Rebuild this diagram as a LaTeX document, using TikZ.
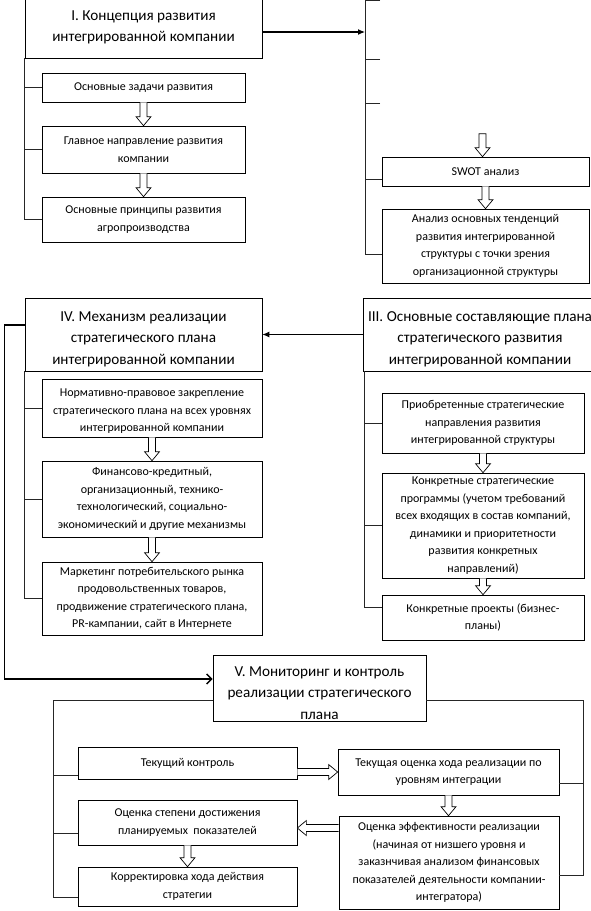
\documentclass[tikz,border=0pt]{standalone}
\usepackage{fontspec}
\setmainfont{Carlito}
\usetikzlibrary{calc,arrows.meta}
\tikzset{
  box/.style={draw=black, line width=0.7pt, fill=white, align=center, inner sep=0pt,
    font=\fontsize{12}{17.5}\selectfont},
  tbox/.style={box, font=\fontsize{15.2}{21.5}\selectfont},
  bus/.style={draw=black!85, line width=0.8pt},
  mainarrow/.style={draw=black, line width=1.1pt, -{Latex[length=7pt,width=6pt]}},
  openarrow/.style={draw=black, line width=1.5pt, -{Straight Barb[length=5pt,width=10pt]}},
  blockline/.style={draw=black, line width=0.7pt, fill=white, line join=miter},
}
\newcommand\dn[1]{\rule{0pt}{#1}}
\newcommand\boxat[7]{%
  \node[#6, minimum width={(#4-#2)*1pt}, minimum height={(#5-#3)*1pt}] (#1)
    at ({(#2+#4)/2},{(#3+#5)/2}) {#7};}
\newcommand\blockarr[2]{%
  \coordinate (bs) at #1; \coordinate (bt) at #2;
  \coordinate (bh) at ($(bt)!9pt!(bs)$);
  \path[blockline] ($(bs)!3.5pt!90:(bt)$) -- ($(bh)!3.5pt!-90:(bs)$) --
    ($(bh)!7.5pt!-90:(bs)$) -- (bt) -- ($(bh)!7.5pt!90:(bs)$) --
    ($(bh)!3.5pt!90:(bs)$) -- ($(bs)!3.5pt!-90:(bt)$);}
\newcommand\blockarrc[2]{%
  \coordinate (bs) at #1; \coordinate (bt) at #2;
  \coordinate (bh) at ($(bt)!9pt!(bs)$);
  \path[blockline] ($(bs)!3.5pt!90:(bt)$) -- ($(bh)!3.5pt!-90:(bs)$) --
    ($(bh)!7.5pt!-90:(bs)$) -- (bt) -- ($(bh)!7.5pt!90:(bs)$) --
    ($(bh)!3.5pt!90:(bs)$) -- ($(bs)!3.5pt!-90:(bt)$) -- cycle;}
\begin{document}
\begin{tikzpicture}[x=1pt,y=-1pt]
\useasboundingbox (0,0) rectangle (591,911);
\clip (0,0) rectangle (591,911);
\fill[white] (0,0) rectangle (591,911);

% ---- Block I
\boxat{b1}{25}{-3}{262}{58}{tbox}{I. Концепция развития\\интегрированной компании}
\boxat{s11}{42}{73}{245}{102}{box}{Основные задачи развития}
\boxat{s12}{42}{126}{245}{173}{box}{Главное направление развития\\компании}
\boxat{s13}{42}{197}{245}{242}{box}{Основные принципы развития\\агропроизводства}
\draw[bus] (b1.south west) |- (s13.west);
\draw[bus] (b1.south west |- s11.west) -- (s11.west);
\draw[bus] (b1.south west |- s12.west) -- (s12.west);
\blockarr{(s11.south)}{(s12.north)}
\blockarr{(s12.south)}{(s13.north)}

% ---- Block II (partly shown)
\boxat{swot}{382}{157}{589}{186}{box}{SWOT анализ}
\boxat{an}{382}{209}{589}{283}{box}{Анализ основных тенденций\\развития интегрированной\\структуры с точки зрения\\организационной структуры}
\coordinate (c2top) at (380,0.5);
\coordinate (c2in) at (365,32);
\coordinate (t2a) at (380,59);
\coordinate (t2b) at (380,103);
\coordinate (swin) at ($(swot.north)+(-3,-23)$);
\draw[bus] (c2top) -- ++(-15,0) |- ($(an.west)+(0,8)$);
\draw[bus] (t2a) -- ++(-15,0);
\draw[bus] (t2b) -- ++(-15,0);
\draw[bus] ($(swot.west)+(0,7.5)$) -- ++(-17,0);
\draw[mainarrow] (b1.east |- c2in) -- (c2in);
\blockarrc{(swin)}{(swin |- swot.north)}
\blockarr{(swot.south)}{(an.north)}

% ---- Block IV
\boxat{b4}{25}{298}{262}{371}{tbox}{\dn{19pt}IV. Механизм реализации\\стратегического плана\\интегрированной компании}
\boxat{s41}{42}{379}{262}{437}{box}{\dn{14pt}Нормативно-правовое закрепление\\стратегического плана на всех уровнях\\интегрированной компании}
\boxat{s42}{42}{461}{262}{537}{box}{Финансово-кредитный,\\организационный, технико-\\технологический, социально-\\экономический и другие механизмы}
\boxat{s43}{42}{562}{262}{635}{box}{Маркетинг потребительского рынка\\продовольственных товаров,\\продвижение стратегического плана,\\PR-кампании, сайт в Интернете}
\draw[bus] (b4.south west) |- (s43.west);
\draw[bus] (b4.south west |- s41.west) -- (s41.west);
\draw[bus] (b4.south west |- s42.west) -- (s42.west);
\blockarr{(s41.south)}{(s42.north)}
\blockarr{(s42.south)}{(s43.north)}

% ---- Block III
\boxat{b3}{363}{298}{597}{371}{tbox}{\dn{19pt}III. Основные составляющие плана\\стратегического развития\\интегрированной компании}
\boxat{s31}{382}{393}{584}{453}{box}{Приобретенные стратегические\\направления развития\\интегрированной структуры}
\boxat{s32}{382}{473}{584}{578}{box}{Конкретные стратегические\\программы (учетом требований\\всех входящих в состав компаний,\\динамики и приоритетности\\развития конкретных\\направлений)}
\boxat{s33}{382}{595}{584}{640}{box}{Конкретные проекты (бизнес-\\планы)}
\coordinate (c3) at ($(b3.south west)+(2,0)$);
\draw[bus] (c3) |- ($(s33.west)+(0,-10.5)$);
\draw[bus] (c3 |- s31.west) -- (s31.west);
\draw[bus] (c3 |- s32.west) -- (s32.west);
\blockarr{(s31.south)}{(s32.north)}
\blockarr{(s32.south)}{(s33.north)}
\draw[mainarrow] (b3.west) -- (b4.east);

% ---- Block V
\boxat{b5}{213}{655}{426}{721}{tbox}{\dn{20pt}V. Мониторинг и контроль\\реализации стратегического\\плана}
\boxat{s51}{78}{747}{297}{779}{box}{Текущий контроль}
\boxat{s52}{338}{749}{559}{795}{box}{Текущая оценка хода реализации по\\уровням интеграции}
\boxat{s53}{78}{800}{297}{845}{box}{Оценка степени достижения\\планируемых\ \ показателей}
\boxat{s54}{339}{816}{559}{909}{box}{Оценка эффективности реализации\\(начиная от низшего уровня и\\заказнчивая анализом финансовых\\показателей деятельности компании-\\интегратора)}
\boxat{s55}{78}{867}{297}{906}{box}{Корректировка хода действия\\стратегии}
\draw[openarrow] ($(b4.west)+(0,-9.5)$) -- ++(-20,0) |- ($(b5.west)+(0,-9)$);
\draw[bus] ($(b5.west)+(0,12)$) -| ($(s55.west)+(-24,10.5)$) -- ($(s55.west)+(0,10.5)$);
\draw[bus] ($(s51.west)+(0,12)$) -- ++(-24,0);
\draw[bus] ($(s53.west)+(0,10.5)$) -- ++(-24,0);
\draw[bus] ($(b5.east)+(0,12)$) -| ($(s54.east)+(24,12.5)$) -- ($(s54.east)+(0,12.5)$);
\draw[bus] ($(s52.east)+(0,11)$) -- ++(24,0);
\blockarr{(s51.east |- s52.west)}{(s52.west)}
\blockarr{(s52.south)}{(s52.south |- s54.north)}
\coordinate (lefta) at ($(s54.west)+(0,-34.5)$);
\blockarr{(lefta)}{(s53.east |- lefta)}
\blockarr{(s53.south)}{(s55.north)}
\end{tikzpicture}
\end{document}
